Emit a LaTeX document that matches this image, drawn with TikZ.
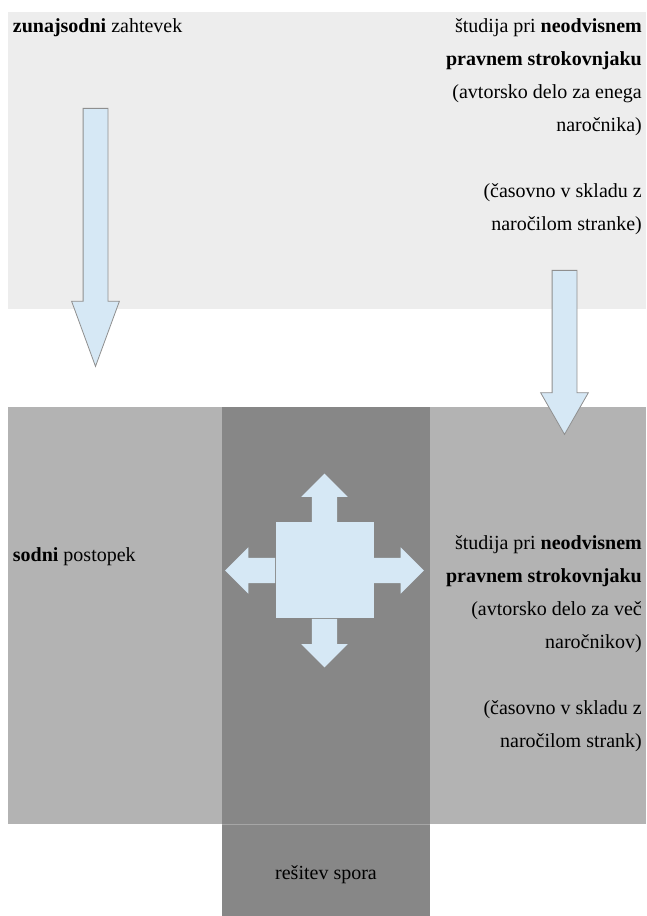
\documentclass[tikz,border=0pt]{standalone}
\usepackage{fontspec}
\setmainfont{Liberation Serif}
\usetikzlibrary{positioning,shapes.arrows}

\definecolor{topgray}{HTML}{EDEDED}
\definecolor{sodnigray}{HTML}{B3B3B3}
\definecolor{sporgray}{HTML}{878787}
\definecolor{arrowblue}{HTML}{D6E8F5}
\definecolor{arrowline}{HTML}{8F8F8F}

\begin{document}
\begin{tikzpicture}[
% Change style
	x=1pt, y=1pt,
	every node/.style={font=\fontsize{20}{33}\selectfont},
	zone/.style={rectangle, inner sep=0pt, anchor=north west},
	txt/.style={inner sep=0pt},
	blockarrow/.style={single arrow, draw=arrowline, fill=arrowblue, line width=0.8pt,
		inner sep=0pt, inner ysep=12pt, single arrow head extend=11.5pt,
		rotate=-90, anchor=tail},
	crossarm/.style={single arrow, fill=arrowblue, inner sep=0pt, inner ysep=12.5pt,
		single arrow head extend=10.5pt, anchor=tail}]

\useasboundingbox (0,0) rectangle (646,916);

% Top area
\node[zone, fill=topgray, minimum width=638pt, minimum height=297pt] (zunaj) at (8,904) {};

% Bottom area
\node[zone, fill=sodnigray, minimum width=638pt, minimum height=417pt] (sodni) at (8,509) {};

% Middle column
\node[zone, fill=sporgray, minimum width=208pt, minimum height=509pt] (spor) at (222,509) {};
\draw[sodnigray!70!sporgray, line width=0.8pt] (spor.west |- sodni.south) -- (spor.east |- sodni.south);

% Texts
\node[txt, anchor=base west] (zunajtxt) at (12.7,883) {\textbf{zunajsodni} zahtevek};

% (base = last line)
\node[txt, anchor=base east, align=right] (studija1) at (642,685)
	{študija pri \textbf{neodvisnem}\\ \textbf{pravnem strokovnjaku}\\
	(avtorsko delo za enega\\ naročnika)~\\[33pt]
	(časovno v skladu z\\ naročilom stranke)};

\node[txt, anchor=base west] (sodnitxt) at (12.7,354) {\textbf{sodni} postopek};

\node[txt, anchor=base east, align=right] (studija2) at (642,168)
	{študija pri \textbf{neodvisnem}\\ \textbf{pravnem strokovnjaku}\\
	(avtorsko delo za več\\ naročnikov)\\[33pt]
	(časovno v skladu z\\ naročilom strank)};

\node[txt, anchor=base] (resitev) at (326,36) {rešitev spora};

% Arrows down
\node[blockarrow, minimum height=258pt, single arrow tip angle=40.3] (pot1) at (95.5,808) {};
\node[blockarrow, minimum height=164pt, single arrow tip angle=59.6] (pot2) at (564.5,646) {};

% Cross
\node[rectangle, fill=arrowblue, minimum width=98pt, minimum height=96pt, inner sep=0pt] (kvadrat) at (324.5,345.5) {};
\foreach \side/\ang/\len in {north/90/48.5, south/-90/48.5, west/180/50, east/0/50}
	\node[crossarm, rotate=\ang, minimum height=\len pt] (krak-\side) at (kvadrat.\side) {};

\end{tikzpicture}
\end{document}
